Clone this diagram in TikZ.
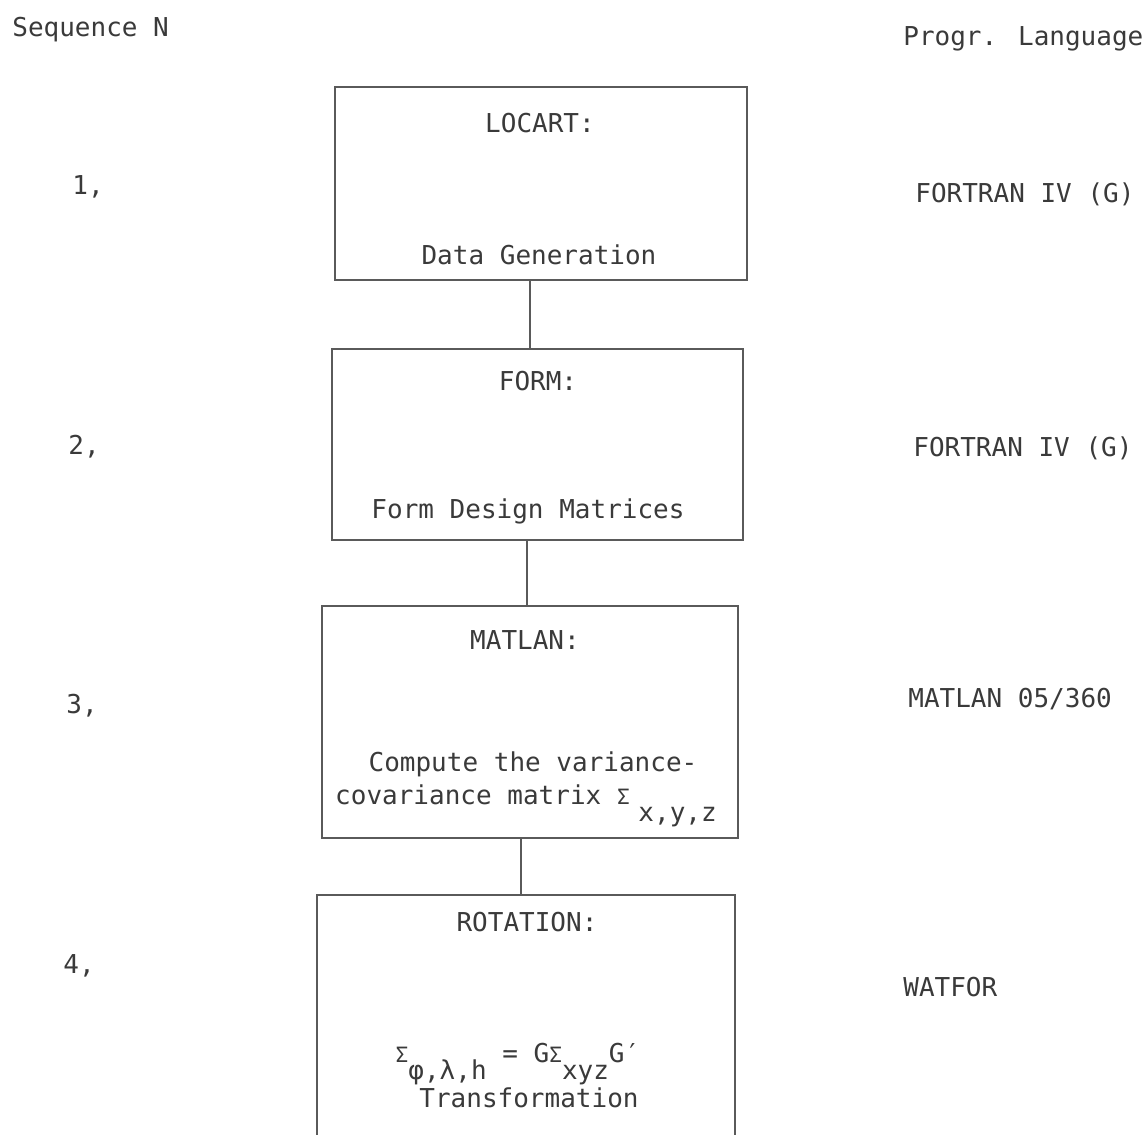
\documentclass[tikz,border=0pt]{standalone}
\usepackage{fontspec}
\setmainfont{DejaVu Sans Mono}
\definecolor{ink}{HTML}{3A3A3A}
\definecolor{rule}{HTML}{5A5A5A}
\newcommand{\lowsub}[1]{\raisebox{-9.7pt}{#1}}
\newcommand{\smallsig}{{\fontsize{12}{14}\selectfont Σ}}
\begin{document}
\begin{tikzpicture}[x=0.02cm,y=-0.02cm,
  every node/.style={text=ink,font=\fontsize{14.8}{17}\selectfont},
  box/.style={draw=rule,line width=0.75pt,inner sep=0pt,rectangle},
  link/.style={draw=rule,line width=0.75pt},
  lbl/.style={inner sep=0pt,anchor=base west},
  ctr/.style={inner sep=0pt,anchor=base}]
\useasboundingbox (0,0) rectangle (1147,1134);
\clip (0,0) rectangle (1147,1134);
\fill[white] (0,0) rectangle (1147,1134);

% headers
\node[lbl] (seq) at (12,36) {Sequence N};
\node[lbl] (prog) at (903,45) {Progr. Language};

% sequence numbers
\node[lbl] (n1) at (72,194) {1,};
\node[lbl] (n2) at (68,454) {2,};
\node[lbl] (n3) at (66,713) {3,};
\node[lbl] (n4) at (63,973) {4,};

% languages
\node[lbl] (l1) at (915,202) {FORTRAN IV (G)};
\node[lbl] (l2) at (913,456) {FORTRAN IV (G)};
\node[lbl] (l3) at (908,707) {MATLAN 05/360};
\node[lbl] (l4) at (903,996) {WATFOR};

% boxes
\node[box,minimum width=8.24cm,minimum height=3.86cm] (b1) at (541,183.5) {};
\node[box,minimum width=8.22cm,minimum height=3.82cm] (b2) at (537.5,444.5) {};
\node[box,minimum width=8.32cm,minimum height=4.64cm] (b3) at (530,722) {};
\node[box,minimum width=8.36cm,minimum height=6.10cm] (b4) at (526,1047.5) {};

% box texts
\node[ctr] (t1a) at (540,132) {LOCART:};
\node[ctr] (t1b) at (539,264) {Data Generation};
\node[ctr] (t2a) at (538,390) {FORM:};
\node[ctr] (t2b) at (528,518) {Form Design Matrices};
\node[ctr] (t3a) at (525,649) {MATLAN:};
\node[ctr] (t3b) at (533,771) {Compute the variance-};
\node[ctr] (t3c) at (526,804) {covariance matrix \smallsig\hspace{5pt}\lowsub{x,y,z}};
\node[ctr] (t4a) at (527,931) {ROTATION:};
\node[ctr] (t4b) at (518,1062) {\smallsig\lowsub{φ,λ,h} = G\smallsig\lowsub{xyz}G′};
\node[ctr] (t4c) at (529,1107) {Transformation};

% connectors
\coordinate (k1) at (530,0);
\coordinate (k2) at (527,0);
\coordinate (k3) at (521,0);
\draw[link] (b1.south -| k1) -- (b2.north -| k1);
\draw[link] (b2.south -| k2) -- (b3.north -| k2);
\draw[link] (b3.south -| k3) -- (b4.north -| k3);
\end{tikzpicture}
\end{document}
